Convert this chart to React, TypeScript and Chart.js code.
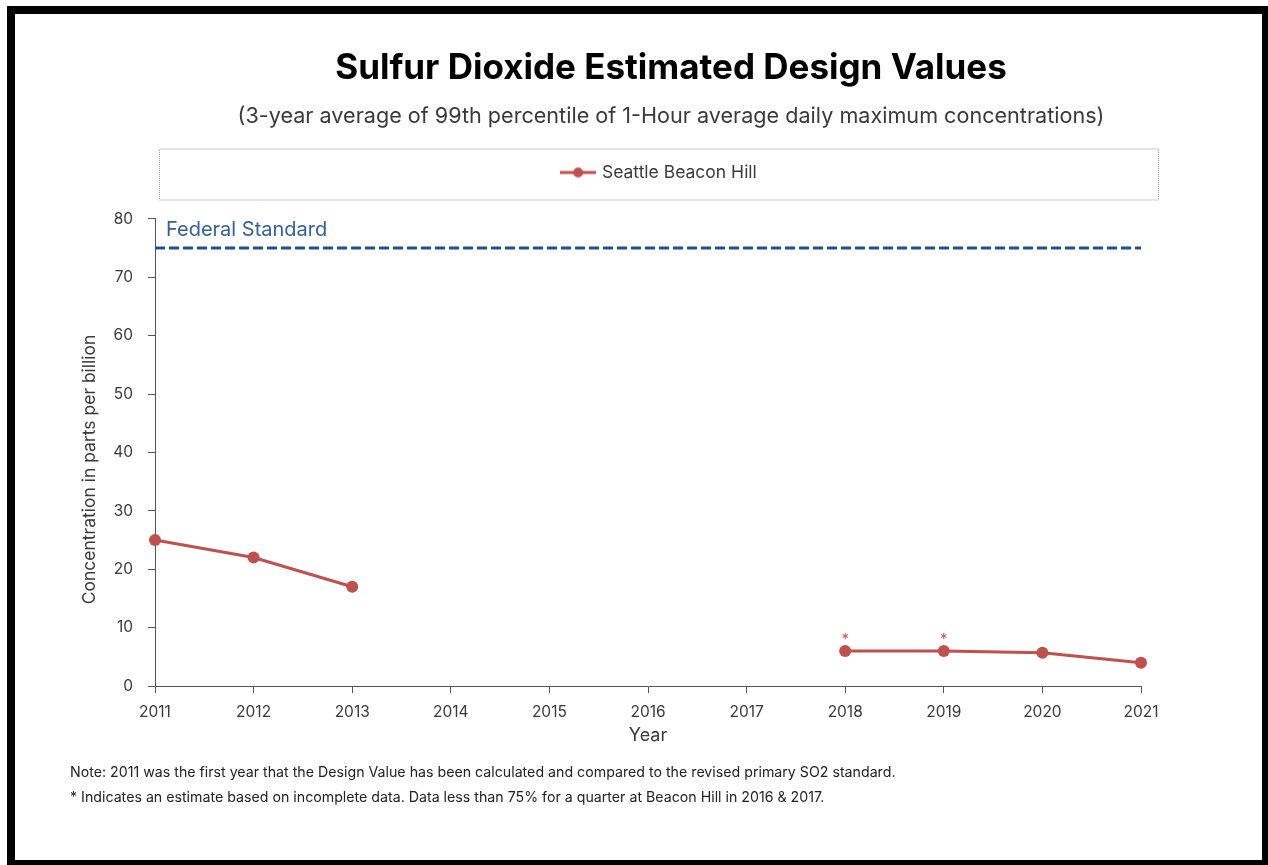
import React, { useEffect, useRef } from "react";
import { Chart, registerables } from "chart.js";

Chart.register(...registerables);

// ---- data ----
const years = ["2011", "2012", "2013", "2014", "2015", "2016", "2017", "2018", "2019", "2020", "2021"];
const beaconHill: (number | null)[] = [25, 22, 17, null, null, null, null, 6, 6, 5.7, 4];
const estimatedFlags = [false, false, false, false, false, false, false, true, true, false, false];
const federalStandardValue = 75;
const federalStandard = years.map(() => federalStandardValue);
const yMin = 0;
const yMax = 80;
const yStep = 10;

const titleText = "Sulfur Dioxide Estimated Design Values";
const subtitleText = "(3-year average of 99th percentile of 1-Hour average daily maximum concentrations)";
const seriesLabel = "Seattle Beacon Hill";
const standardLabel = "Federal Standard";
const xTitle = "Year";
const yTitle = "Concentration in parts per billion";
const note1 = "Note: 2011 was the first year that the Design Value has been calculated and compared to the revised primary SO2 standard.";
const note2 = "* Indicates an estimate based on incomplete data. Data less than 75% for a quarter at Beacon Hill in 2016 & 2017.";

// ---- style ----
const FONT = "Inter, 'Open Sans', sans-serif";
const RED = "#C0504D";
const BLUE = "#24508F";
const TEXT = "#3a3a3a";
const AXIS = "#555555";

function makeLegendIcon(): HTMLCanvasElement {
  const c = document.createElement("canvas");
  c.width = 36;
  c.height = 12;
  const g = c.getContext("2d")!;
  g.strokeStyle = RED;
  g.lineWidth = 3;
  g.beginPath();
  g.moveTo(0, 6);
  g.lineTo(36, 6);
  g.stroke();
  g.fillStyle = RED;
  g.beginPath();
  g.arc(18, 6, 5, 0, Math.PI * 2);
  g.fill();
  return c;
}

export default function App() {
  const ref = useRef<HTMLCanvasElement>(null);

  useEffect(() => {
    if (!ref.current) return;
    const icon = makeLegendIcon();
    const legendFont = 17.5;
    const legendPad = 23.8;

    const extras = {
      id: "extras",
      afterLayout(chart: any) {
        const lg = chart.legend;
        if (lg) {
          lg.left -= 11;
          lg.right -= 11;
        }
      },
      afterDraw(chart: any) {
        const ctx = chart.ctx;
        const ca = chart.chartArea;
        const ys = chart.scales.y;
        // legend border
        const lg = chart.legend;
        if (lg) {
          const cy = lg.top + legendPad + legendFont / 2;
          ctx.save();
          ctx.strokeStyle = "#9a9a9a";
          ctx.lineWidth = 1;
          ctx.setLineDash([1, 1]);
          ctx.strokeRect(ca.left + 4.5, cy - 23.5, ca.right - ca.left + 13, 51);
          ctx.restore();
        }
        // federal standard label
        ctx.save();
        ctx.font = `20px ${FONT}`;
        ctx.fillStyle = "#3560A0";
        ctx.textAlign = "left";
        ctx.textBaseline = "middle";
        ctx.fillText(standardLabel, ca.left + 11, ys.getPixelForValue(yMax) + 11);
        ctx.restore();
        // y axis title
        ctx.save();
        ctx.font = `17.5px ${FONT}`;
        ctx.fillStyle = TEXT;
        ctx.textAlign = "center";
        ctx.textBaseline = "middle";
        ctx.translate(ca.left - 65, (ca.top + ca.bottom) / 2 + 17);
        ctx.rotate(-Math.PI / 2);
        ctx.fillText(yTitle, 0, 0);
        ctx.restore();
        // asterisks for estimates
        const meta = chart.getDatasetMeta(0);
        ctx.save();
        ctx.font = `15px ${FONT}`;
        ctx.fillStyle = "#D2504C";
        ctx.textAlign = "center";
        ctx.textBaseline = "middle";
        estimatedFlags.forEach((f, i) => {
          if (!f) return;
          const el = meta.data[i];
          if (!el || el.skip) return;
          ctx.fillText("*", el.x, el.y - 11);
        });
        ctx.restore();
      },
    };

    const chart = new Chart(ref.current, {
      type: "line",
      data: {
        labels: years,
        datasets: [
          {
            label: seriesLabel,
            data: beaconHill,
            borderColor: RED,
            backgroundColor: RED,
            borderWidth: 3,
            pointRadius: 6,
            pointHoverRadius: 6,
            pointBackgroundColor: RED,
            pointBorderColor: RED,
            pointBorderWidth: 0,
            spanGaps: false,
            tension: 0,
            pointStyle: "circle",
          },
          {
            label: standardLabel,
            data: federalStandard,
            borderColor: BLUE,
            borderWidth: 3,
            borderDash: [10, 4],
            pointRadius: 0,
            tension: 0,
          },
        ],
      },
      options: {
        responsive: false,
        animation: false,
        layout: { padding: { top: 2, left: 0, right: 0, bottom: 0 } },
        plugins: {
          title: {
            display: true,
            text: titleText,
            color: "#000",
            font: { family: FONT, size: 35, weight: "bold", lineHeight: 1.2 },
            padding: { top: 45, bottom: 15 },
          },
          subtitle: {
            display: true,
            text: subtitleText,
            color: TEXT,
            font: { family: FONT, size: 21.6, lineHeight: 1.2 },
            padding: { top: 0, bottom: 10 },
          },
          legend: {
            display: true,
            position: "top",
            labels: {
              filter: (item: any) => item.datasetIndex === 0,
              usePointStyle: true,
              pointStyle: icon as any,
              pointStyleWidth: 30,
              color: TEXT,
              padding: legendPad,
              font: { family: FONT, size: legendFont },
              generateLabels: (ch: any) => {
                const items = Chart.defaults.plugins.legend.labels.generateLabels(ch);
                return items.map((it: any) => ({ ...it, pointStyle: icon }));
              },
            },
          },
          tooltip: { enabled: false },
        },
        scales: {
          x: {
            type: "category",
            position: "bottom",
            offset: false,
            grid: { display: true, drawOnChartArea: false, drawTicks: true, tickLength: 7, color: AXIS },
            border: { display: true, color: AXIS, width: 1 },
            ticks: { color: TEXT, font: { family: FONT, size: 15.5 }, padding: 10, maxRotation: 0, autoSkip: false },
            title: {
              display: true,
              text: xTitle,
              color: TEXT,
              font: { family: FONT, size: 18, lineHeight: 1.2 },
              padding: { top: 0, bottom: 119 },
            },
            afterFit: (s: any) => {
              s.height = 179;
            },
          },
          xTop: {
            type: "category",
            position: "top",
            display: true,
            grid: { display: false, drawTicks: false },
            border: { display: false },
            ticks: { display: false },
            afterFit: (s: any) => {
              s.height = 27.7;
            },
          },
          y: {
            type: "linear",
            position: "left",
            min: yMin,
            max: yMax,
            grid: { display: true, drawOnChartArea: false, drawTicks: true, tickLength: 7, color: AXIS },
            border: { display: true, color: AXIS, width: 1 },
            ticks: { stepSize: yStep, color: TEXT, font: { family: FONT, size: 15.5 }, padding: 15 },
            afterFit: (s: any) => {
              s.width = 81;
            },
          },
          yRight: {
            type: "linear",
            position: "right",
            display: true,
            grid: { display: false, drawTicks: false },
            border: { display: false },
            ticks: { display: false },
            afterFit: (s: any) => {
              s.width = 127;
            },
          },
        },
      },
      plugins: [extras],
    } as any);

    return () => chart.destroy();
  }, []);

  const noteStyle: React.CSSProperties = {
    position: "absolute",
    left: 70,
    fontFamily: FONT,
    fontSize: 14.2,
    lineHeight: "18px",
    color: "#222",
    whiteSpace: "nowrap",
  };

  return (
    <div style={{ position: "absolute", left: 0, top: 0, width: 1268, height: 865, background: "#fff", overflow: "hidden" }}>
      <div
        style={{
          position: "absolute",
          left: 7,
          top: 6,
          width: 1261,
          height: 859,
          boxSizing: "border-box",
          borderStyle: "solid",
          borderColor: "#000",
          borderWidth: "8px 6px 5px 8px",
        }}
      />
      <canvas ref={ref} width={1194} height={865} style={{ position: "absolute", left: 74, top: 0, width: 1194, height: 865 }} />
      <div style={{ ...noteStyle, top: 763 }}>{note1}</div>
      <div style={{ ...noteStyle, top: 788 }}>{note2}</div>
    </div>
  );
}
